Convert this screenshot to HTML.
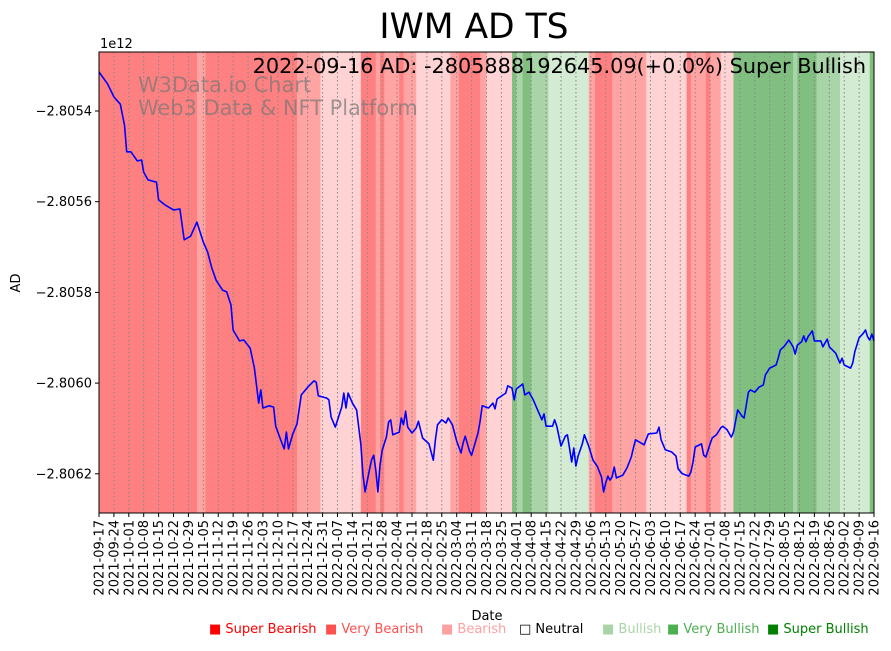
<!DOCTYPE html>
<html><head><meta charset="utf-8"><style>
body{margin:0;background:#fff;width:891px;height:646px;overflow:hidden;font-family:"Liberation Sans","DejaVu Sans",sans-serif}
svg text{font-family:"DejaVu Sans","Liberation Sans",sans-serif}
</style></head><body>
<svg id="c" width="891" height="646" xmlns="http://www.w3.org/2000/svg">
<g id="bands"></g>
<g id="grid"></g>
<text x="138" y="92" font-size="20.9" fill="#777" fill-opacity="0.7">W3Data.io Chart</text>
<text x="138" y="115" font-size="20.9" fill="#777" fill-opacity="0.7">Web3 Data &amp; NFT Platform</text>
<g id="series"></g>
<rect x="99" y="52" width="775" height="461" fill="none" stroke="#000" stroke-width="1"/>
<g id="yaxis"></g>
<g id="xaxis"></g>
<text x="474" y="38" font-size="34.5" text-anchor="middle">IWM AD TS</text>
<text x="100" y="48" font-size="13">1e12</text>
<text x="866" y="73" font-size="20.8" text-anchor="end">2022-09-16 AD: -2805888192645.09(+0.0%) Super Bullish</text>
<text x="487" y="620" font-size="13" text-anchor="middle">Date</text>
<text x="0" y="0" font-size="13" text-anchor="middle" transform="translate(20,283) rotate(-90)">AD</text>
<g font-size="13">
<text x="209" y="633" fill="#ff0000">■ Super Bearish</text>
<text x="325" y="633" fill="#ff5050">■ Very Bearish</text>
<text x="441" y="633" fill="#ffa0a0">■ Bearish</text>
<text x="519" y="633" fill="#000">□ Neutral</text>
<text x="602" y="633" fill="#a8d4a8">■ Bullish</text>
<text x="667" y="633" fill="#4caf50">■ Very Bullish</text>
<text x="767" y="633" fill="#008000">■ Super Bullish</text>
</g>
</svg>
<script>
const days=[0,4,7,10,12,13,15,18,20,21,23,27,28,31,35,38,40,43,46,49,51,53,55,58,60,62,63,66,68,71,73,75,76,77,80,82,83,85,87,88,89,91,93,95,98,101,102,103,107,108,109,111,114,115,116,117,119,121,123,124,125,127,128,129,130,131,132,133,135,136,137,138,140,141,142,143,144,145,147,149,150,152,155,157,158,159,161,163,164,166,168,170,171,172,174,175,178,179,180,183,185,186,187,191,192,194,195,196,199,200,202,204,206,208,209,210,213,214,215,217,219,220,222,223,224,225,227,228,230,232,234,236,237,238,239,240,241,242,243,246,248,250,251,252,256,258,262,263,264,266,269,271,272,274,277,278,279,280,283,284,285,287,288,290,292,293,295,297,298,300,302,303,304,305,306,308,310,312,313,315,318,319,320,322,324,326,327,328,330,331,332,333,335,336,339,340,342,343,346,348,349,350,353,354,355,357,359,360,361,362,363,364];
const adValues=[-28053.14,-28053.40,-28053.69,-28053.85,-28054.31,-28054.90,-28054.90,-28055.10,-28055.08,-28055.35,-28055.52,-28055.57,-28055.96,-28056.07,-28056.18,-28056.16,-28056.84,-28056.76,-28056.45,-28056.89,-28057.11,-28057.46,-28057.73,-28057.95,-28057.99,-28058.28,-28058.83,-28059.07,-28059.05,-28059.23,-28059.67,-28060.44,-28060.15,-28060.55,-28060.50,-28060.53,-28060.95,-28061.21,-28061.45,-28061.08,-28061.45,-28061.12,-28060.90,-28060.26,-28060.09,-28059.95,-28059.98,-28060.28,-28060.33,-28060.37,-28060.75,-28060.97,-28060.53,-28060.22,-28060.55,-28060.22,-28060.44,-28060.59,-28061.36,-28062.03,-28062.40,-28061.92,-28061.70,-28061.59,-28061.92,-28062.40,-28061.81,-28061.48,-28061.19,-28060.86,-28060.81,-28061.14,-28061.10,-28061.08,-28060.77,-28060.92,-28060.62,-28060.97,-28061.10,-28060.99,-28060.84,-28061.21,-28061.34,-28061.70,-28061.25,-28060.92,-28060.81,-28060.88,-28060.77,-28060.92,-28061.28,-28061.54,-28061.32,-28061.17,-28061.50,-28061.59,-28061.10,-28060.84,-28060.50,-28060.55,-28060.44,-28060.57,-28060.35,-28060.22,-28060.06,-28060.11,-28060.37,-28060.13,-28060.02,-28060.26,-28060.20,-28060.37,-28060.59,-28060.81,-28060.68,-28060.95,-28060.95,-28060.81,-28060.95,-28061.39,-28061.17,-28061.14,-28061.74,-28061.43,-28061.83,-28061.61,-28061.34,-28061.14,-28061.39,-28061.70,-28061.83,-28062.07,-28062.40,-28062.20,-28062.05,-28062.14,-28062.07,-28061.85,-28062.09,-28062.03,-28061.87,-28061.63,-28061.43,-28061.25,-28061.36,-28061.12,-28061.10,-28060.97,-28061.25,-28061.47,-28061.52,-28061.61,-28061.89,-28062.00,-28062.05,-28061.96,-28061.74,-28061.41,-28061.34,-28061.59,-28061.63,-28061.34,-28061.21,-28061.14,-28060.99,-28060.95,-28061.03,-28061.19,-28061.08,-28060.59,-28060.73,-28060.77,-28060.48,-28060.20,-28060.15,-28060.20,-28060.09,-28060.04,-28059.82,-28059.67,-28059.60,-28059.45,-28059.27,-28059.18,-28059.05,-28059.20,-28059.36,-28059.16,-28059.09,-28058.96,-28059.09,-28058.98,-28058.85,-28059.07,-28059.07,-28059.20,-28059.03,-28059.20,-28059.34,-28059.56,-28059.45,-28059.60,-28059.67,-28059.56,-28059.31,-28059.00,-28058.90,-28058.83,-28058.98,-28059.05,-28058.92,-28059.07];
const bandStarts=[0,46,50,93,104,123,130,132,134,141,143,149,165,169,179,182,194,196,199,203,211,230,233,241,257,276,278,285,287,292,298,326,328,337,348,362];
const bandLevels=[-3,-2,-3,-2,-1,-3,-2,-3,-2,-3,-2,-1,-2,-3,-2,-1,3,2,3,2,1,-2,-3,-2,-1,-3,-2,-3,-2,-1,3,2,3,2,1,3];
const yTicks=[-28054,-28056,-28058,-28060,-28062];
const yTickLabels=["−2.8054","−2.8056","−2.8058","−2.8060","−2.8062"];
const totalDays=364;
const NS="http://www.w3.org/2000/svg";
const X0=99,X1=874,Y0=52,Y1=513;
function xs(d){return X0+(X1-X0)*d/totalDays;}
function ys(v){return 111+(-28054-v)*45.35;}
function mk(t,a,p){const e=document.createElementNS(NS,t);for(const k in a)e.setAttribute(k,a[k]);p.appendChild(e);return e;}
const colors={"-3":"#ff8080","-2":"#ffa3a3","-1":"#ffd3d3","1":"#d3ead3","2":"#a8d4a8","3":"#80bf80"};
const bg=document.getElementById('bands');
for(let i=0;i<bandStarts.length;i++){
 const s=bandStarts[i],e=i+1<bandStarts.length?bandStarts[i+1]:totalDays;
 const r=mk('rect',{x:xs(s),y:Y0,width:xs(e)-xs(s)+0.5,height:Y1-Y0,fill:colors[bandLevels[i]]},bg);
 
 
}
const grid=document.getElementById('grid'),xa=document.getElementById('xaxis');
const start=new Date(Date.UTC(2021,8,17));
for(let d=0;d<=totalDays;d+=7){
 const x=xs(d);
 const g=mk('line',{x1:x,x2:x,y1:Y0,y2:Y1,stroke:'#888','stroke-dasharray':'1.5,2.5','stroke-width':1},grid);
 
 
 mk('line',{x1:x,x2:x,y1:Y1,y2:Y1+4,stroke:'#000'},xa);
 const dt=new Date(start.getTime()+d*86400000);
 const lab=dt.toISOString().slice(0,10);
 const t=mk('text',{transform:`translate(${x+4.5},${Y1+7}) rotate(-90)`,'font-size':13,'text-anchor':'end'},xa);
 t.textContent=lab;
 
 
}
const ya=document.getElementById('yaxis');
yTicks.forEach((v,i)=>{
 const y=ys(v);
 mk('line',{x1:X0-4,x2:X0,y1:y,y2:y,stroke:'#000'},ya);
 const t=mk('text',{x:X0-7,y:y+4.5,'font-size':13,'text-anchor':'end'},ya);
 t.textContent=yTickLabels[i];
 
 
});
const pts=days.map((d,i)=>xs(d).toFixed(1)+','+ys(adValues[i]).toFixed(1)).join(' ');
const pl=mk('polyline',{points:pts,fill:'none',stroke:'#0000ff','stroke-width':1.6,'stroke-linejoin':'round'},document.getElementById('series'));


</script>
</body></html>
